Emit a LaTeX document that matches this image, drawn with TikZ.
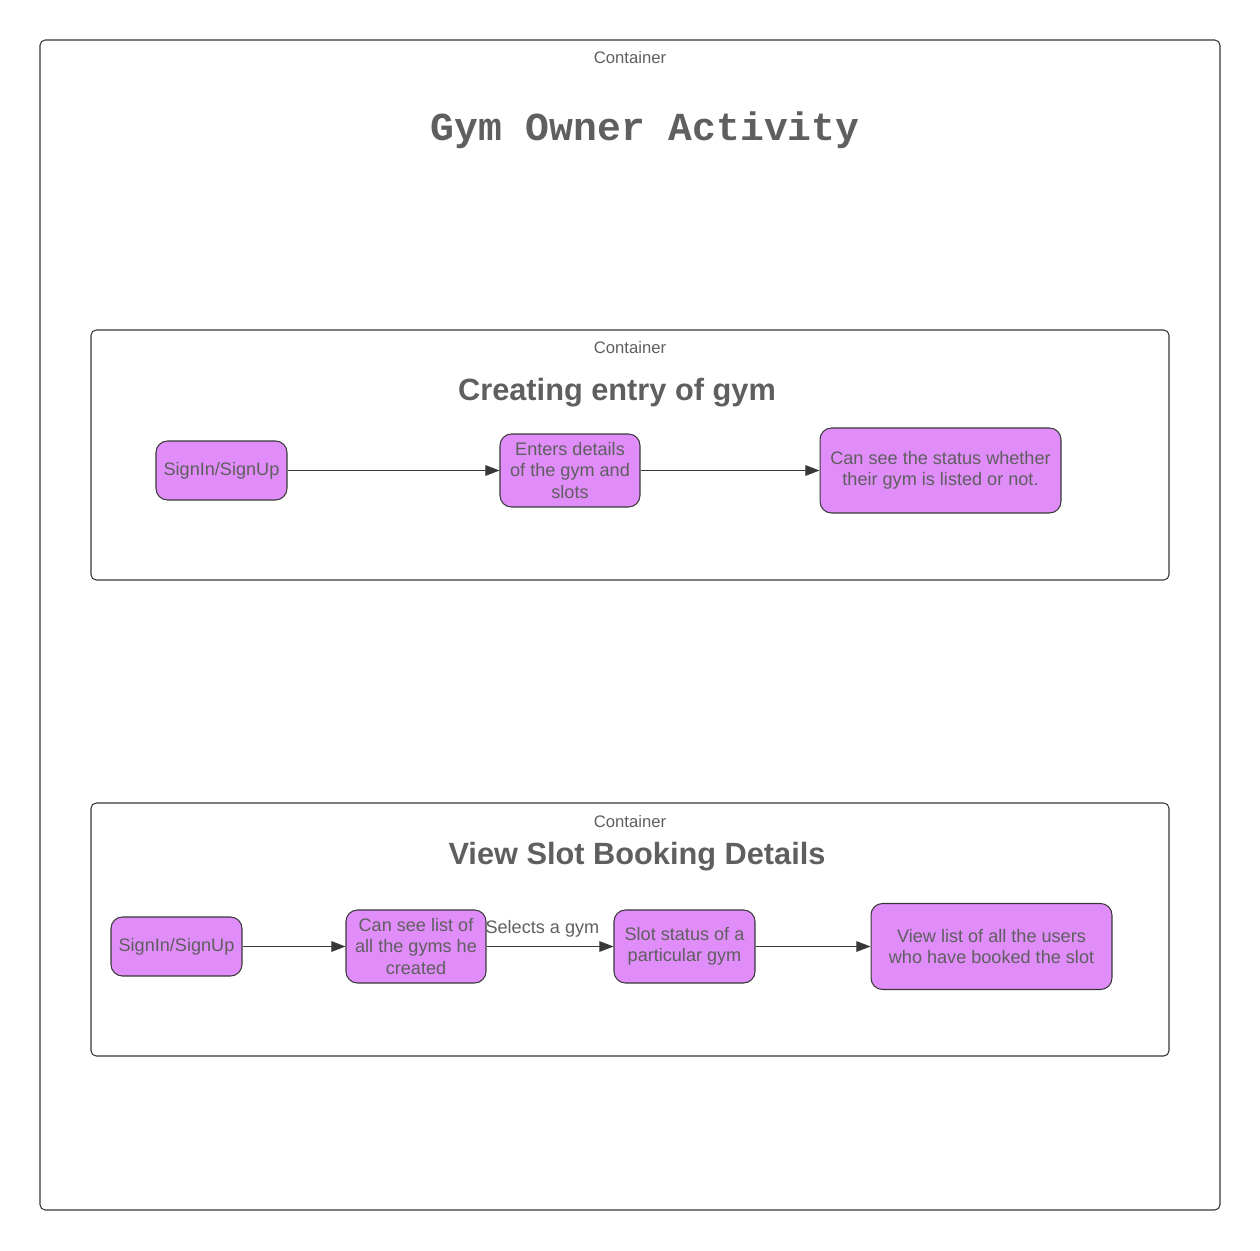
\documentclass[tikz,border=0pt]{standalone}
\usepackage{fontspec}
\setmainfont{Liberation Sans}
\newfontfamily\titlemono{Liberation Mono}
\usetikzlibrary{arrows.meta,positioning}
\definecolor{boxviolet}{HTML}{E08CF9}
\definecolor{textgray}{HTML}{5F5F5F}
\definecolor{framegray}{HTML}{383838}
\tikzset{
  containerbox/.style={draw=framegray,rounded corners=3pt,line width=0.6pt},
  containertag/.style={font=\fontsize{9.5}{11}\selectfont,text=textgray},
  grouptitle/.style={font=\fontsize{17.5}{20}\selectfont\bfseries,text=textgray},
  stepnode/.style={draw=framegray,fill=boxviolet,rounded corners=6.5pt,align=center,
    inner sep=2pt,font=\fontsize{10.3}{12.3}\selectfont,text=textgray,line width=0.6pt},
  flowarrow/.style={-{Triangle[length=8pt,width=6pt]},line width=0.6pt,draw=framegray}
}

\begin{document}
\begin{tikzpicture}[x=0.02cm,y=-0.02cm]
\useasboundingbox (0,0) rectangle (1260,1250);
% outer frame
\draw[containerbox] (40,40) rectangle (1220,1210);
\node[containertag] (outertag) at (630,58) {Container};
\node[text=textgray,font=\fontsize{22.6}{26}\selectfont\titlemono\bfseries] (maintitle) at (645,130) {Gym Owner Activity};

% creating entry of gym
\draw[containerbox] (91,330) rectangle (1169,580);
\node[containertag] (entrytag) at (630,348) {Container};
\node[grouptitle] (entrytitle) at (617,393) {Creating entry of gym};
\node[stepnode,minimum width=2.62cm,minimum height=1.18cm] (signa) at (221.5,470.5) {SignIn/SignUp};
\node[stepnode,minimum width=2.8cm,minimum height=1.46cm] (details) at (570,470.5) {Enters details\\of the gym and\\slots};
\node[stepnode,minimum width=4.82cm,minimum height=1.7cm] (status) at (940.5,470.5) {Can see the status whether\\their gym is listed or not.};
\draw[flowarrow] (signa) -- (details);
\draw[flowarrow] (details) -- (status);

% view slot booking details
\draw[containerbox] (91,803) rectangle (1169,1056);
\node[containertag] (viewtag) at (630,822) {Container};
\node[grouptitle] (viewtitle) at (637,857) {View Slot Booking Details};
\node[stepnode,minimum width=2.62cm,minimum height=1.18cm] (signb) at (176.5,946.5) {SignIn/SignUp};
\node[stepnode,minimum width=2.8cm,minimum height=1.46cm] (gymlist) at (416,946.5) {Can see list of\\all the gyms he\\created};
\node[stepnode,minimum width=2.82cm,minimum height=1.46cm] (slotstat) at (684.5,946.5) {Slot status of a\\particular gym};
\node[stepnode,minimum width=4.82cm,minimum height=1.72cm] (userlist) at (991.5,946.5) {View list of all the users\\who have booked the slot};
\draw[flowarrow] (signb) -- (gymlist);
\draw[flowarrow] (gymlist) -- node[above,pos=0.44,text=textgray,font=\fontsize{10.3}{12}\selectfont,inner sep=5pt] {Selects a gym} (slotstat);
\draw[flowarrow] (slotstat) -- (userlist);
\end{tikzpicture}
\end{document}
